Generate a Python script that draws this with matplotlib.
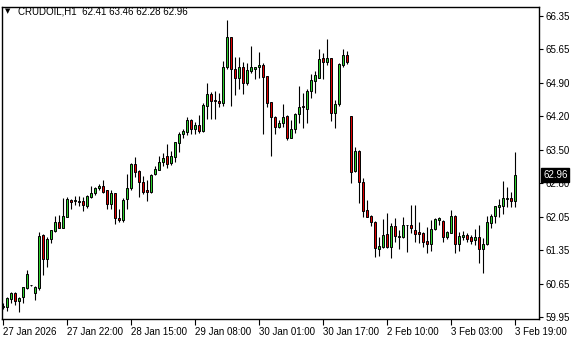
import matplotlib
matplotlib.use('Agg')
import matplotlib.pyplot as plt
import matplotlib.transforms as mtransforms
import numpy as np

symbol = 'CRUDOIL,H1'
opens = [60.16, 60.16, 60.33, 60.45, 60.30, 60.37, 60.57, 60.62, 60.47, 60.56,
         61.69, 61.19, 61.60, 61.78, 61.97, 61.85, 62.08, 62.44, 62.41, 62.42,
         62.42, 62.30, 62.50, 62.58, 62.69, 62.74, 62.64, 62.36, 62.58, 62.05,
         62.01, 62.45, 62.69, 63.20, 63.05, 62.83, 62.64, 62.60, 62.98, 63.08,
         63.24, 63.37, 63.23, 63.36, 63.64, 63.85, 63.89, 64.14, 63.94, 64.03,
         63.91, 64.44, 64.69, 64.56, 64.55, 64.51, 65.26, 65.90, 65.22, 65.04,
         65.27, 64.93, 65.17, 65.23, 65.27, 65.31, 65.07, 64.52, 64.20, 63.98,
         64.07, 64.22, 63.76, 63.94, 64.26, 64.44, 64.38, 64.76, 64.97, 65.04,
         65.45, 65.38, 65.45, 64.29, 64.47, 65.31, 65.52, 64.22, 63.06, 63.48,
         62.81, 62.22, 62.10, 61.98, 61.39, 61.43, 61.71, 61.44, 61.89, 61.64,
         61.64, 61.90, 61.90, 61.81, 61.75, 61.73, 61.57, 61.50, 61.83, 62.01,
         61.99, 61.64, 61.74, 62.10, 61.50, 61.66, 61.69, 61.64, 61.59, 61.66,
         61.39, 61.50, 61.94, 62.10, 62.28, 62.32, 62.46, 62.49, 62.41]
highs = [60.24, 60.38, 60.48, 60.48, 60.38, 60.59, 60.94, 60.64, 60.61, 61.75,
         61.71, 61.64, 61.81, 62.10, 62.11, 62.47, 62.50, 62.45, 62.53, 62.52,
         62.51, 62.55, 62.74, 62.72, 62.77, 62.86, 62.66, 62.66, 62.59, 62.25,
         62.47, 62.98, 63.23, 63.36, 63.08, 62.95, 62.86, 62.99, 63.17, 63.37,
         63.43, 63.63, 63.47, 63.68, 63.89, 63.94, 64.20, 64.15, 64.10, 64.24,
         64.49, 64.92, 64.74, 64.76, 64.71, 65.40, 66.26, 65.91, 65.48, 65.48,
         65.38, 65.34, 65.71, 65.27, 65.59, 65.36, 65.08, 64.53, 64.22, 64.14,
         64.47, 64.24, 64.14, 64.28, 64.86, 64.71, 64.79, 65.12, 65.18, 65.64,
         65.57, 65.85, 65.46, 64.56, 65.34, 65.64, 65.61, 64.23, 63.57, 63.50,
         62.91, 62.44, 62.11, 61.99, 61.64, 62.03, 62.16, 61.94, 62.05, 61.80,
         62.08, 61.91, 62.33, 62.33, 61.97, 61.76, 61.87, 62.01, 62.05, 62.08,
         62.01, 61.78, 62.22, 62.12, 61.76, 61.78, 61.74, 61.70, 61.82, 61.91,
         61.62, 62.10, 62.15, 62.31, 62.45, 62.84, 62.72, 62.61, 63.46]
lows = [60.13, 60.08, 60.25, 60.20, 60.06, 60.24, 60.55, 60.61, 60.31, 60.52,
        60.84, 61.02, 61.52, 61.76, 61.84, 61.84, 62.07, 62.25, 62.33, 62.31,
        62.20, 62.26, 62.48, 62.55, 62.65, 62.59, 62.25, 62.25, 61.93, 61.97,
        61.98, 62.25, 62.66, 62.93, 62.51, 62.56, 62.42, 62.59, 62.97, 63.07,
        63.17, 63.12, 63.19, 63.25, 63.46, 63.75, 63.82, 63.83, 63.84, 63.87,
        63.89, 64.17, 64.17, 64.17, 64.42, 64.44, 65.22, 64.44, 64.67, 64.79,
        64.69, 64.88, 65.14, 65.00, 65.03, 63.84, 64.42, 63.37, 63.84, 63.96,
        63.98, 63.71, 63.75, 63.86, 64.08, 63.96, 64.07, 64.60, 64.71, 65.03,
        65.00, 65.31, 64.12, 63.96, 64.44, 65.27, 65.33, 62.79, 63.04, 62.38,
        62.08, 62.07, 61.89, 61.23, 61.25, 61.41, 61.42, 61.21, 61.54, 61.40,
        61.63, 61.34, 61.73, 61.55, 61.53, 61.44, 61.32, 61.36, 61.80, 61.91,
        61.55, 61.61, 61.73, 61.32, 61.36, 61.59, 61.54, 61.50, 61.48, 61.10,
        60.88, 61.49, 61.84, 61.95, 62.08, 62.13, 62.28, 62.28, 62.28]
closes = [60.18, 60.35, 60.45, 60.30, 60.35, 60.58, 60.86, 60.62, 60.58, 61.67,
          61.19, 61.61, 61.79, 61.97, 61.85, 62.10, 62.45, 62.39, 62.44, 62.39,
          62.33, 62.52, 62.58, 62.69, 62.74, 62.61, 62.36, 62.58, 62.05, 62.01,
          62.44, 62.69, 63.21, 63.04, 62.82, 62.61, 62.60, 62.96, 63.10, 63.25,
          63.32, 63.20, 63.38, 63.66, 63.83, 63.90, 64.14, 63.94, 64.03, 63.91,
          64.46, 64.69, 64.55, 64.54, 64.51, 65.26, 65.90, 65.22, 65.04, 65.26,
          64.93, 65.20, 65.26, 65.26, 65.31, 65.06, 64.51, 64.20, 63.98, 64.07,
          64.21, 63.75, 63.95, 64.26, 64.42, 64.41, 64.76, 64.99, 65.09, 65.43,
          65.38, 65.45, 64.29, 64.47, 65.33, 65.51, 65.38, 63.04, 63.48, 62.81,
          62.21, 62.08, 61.96, 61.41, 61.46, 61.69, 61.43, 61.89, 61.68, 61.68,
          61.90, 61.90, 61.84, 61.72, 61.71, 61.55, 61.51, 61.82, 62.03, 62.05,
          61.66, 61.75, 62.10, 61.50, 61.68, 61.69, 61.61, 61.57, 61.66, 61.39,
          61.50, 61.96, 62.10, 62.30, 62.33, 62.47, 62.48, 62.42, 62.96]

xtick_bars = [0, 16, 32, 48, 64, 80, 96, 112, 128]
xtick_labels = ['27 Jan 2026', '27 Jan 22:00', '28 Jan 15:00', '29 Jan 08:00',
                '30 Jan 01:00', '30 Jan 17:00', '2 Feb 10:00', '3 Feb 03:00',
                '3 Feb 19:00']
ytick_labels = ['66.35', '65.65', '64.90', '64.20', '63.50', '62.80',
                '62.05', '61.35', '60.65', '59.95']

FONT = 'Liberation Sans'
W, H = 580, 340
fig = plt.figure(figsize=(W / 100, H / 100), dpi=100)
fig.patch.set_facecolor('white')
ax = fig.add_axes([2 / W, 1 - 319 / H, 537 / W, 312 / H])

n = len(opens)
xs = np.arange(n)
ax.vlines(xs, lows, highs, color='black', linewidth=0.8, zorder=1)
bottoms = [min(o, c) for o, c in zip(opens, closes)]
heights = [abs(c - o) for o, c in zip(opens, closes)]
colors = ['#2ccf2c' if c > o else ('#e00000' if c < o else 'black')
          for o, c in zip(opens, closes)]
ax.bar(xs, heights, bottom=bottoms, width=0.5, color=colors,
       edgecolor='black', linewidth=0.7, zorder=2)

ax.set_xlim(-0.25, 134)
ax.set_ylim(59.907, 66.541)

ax.set_xticks(xtick_bars)
ax.set_xticklabels(xtick_labels, fontsize=7, family=FONT)
for lbl in ax.get_xticklabels():
    lbl.set_horizontalalignment('left')
yt = np.linspace(float(ytick_labels[0]), float(ytick_labels[-1]), len(ytick_labels))
ax.yaxis.tick_right()
ax.set_yticks(yt)
ax.set_yticklabels(ytick_labels, fontsize=7, family=FONT)
ax.tick_params(axis='y', direction='out', length=3, width=0.8, pad=2, colors='black')
ax.tick_params(axis='x', direction='out', length=4, width=0.8, pad=2, colors='black')
for sp in ax.spines.values():
    sp.set_linewidth(1.0)
    sp.set_color('black')

trans = mtransforms.blended_transform_factory(ax.transAxes, ax.transData)
ax.text(1 + 4 / 537, closes[-1], f'{closes[-1]:.2f}', transform=trans,
        fontsize=7, family=FONT, color='white', va='center', ha='left',
        bbox=dict(boxstyle='square,pad=0.2', facecolor='black', edgecolor='black'),
        zorder=5, clip_on=False)

fig.text(5 / W, 1 - 11 / H, '\u25bc', fontsize=5, family='DejaVu Sans',
         va='center', ha='left', color='black')
fig.text(18 / W, 1 - 11 / H,
         f'{symbol}  {opens[-1]:.2f} {highs[-1]:.2f} {lows[-1]:.2f} {closes[-1]:.2f}',
         fontsize=7, family=FONT, va='center', ha='left', color='black')

fig.savefig('out.png', dpi=100)
